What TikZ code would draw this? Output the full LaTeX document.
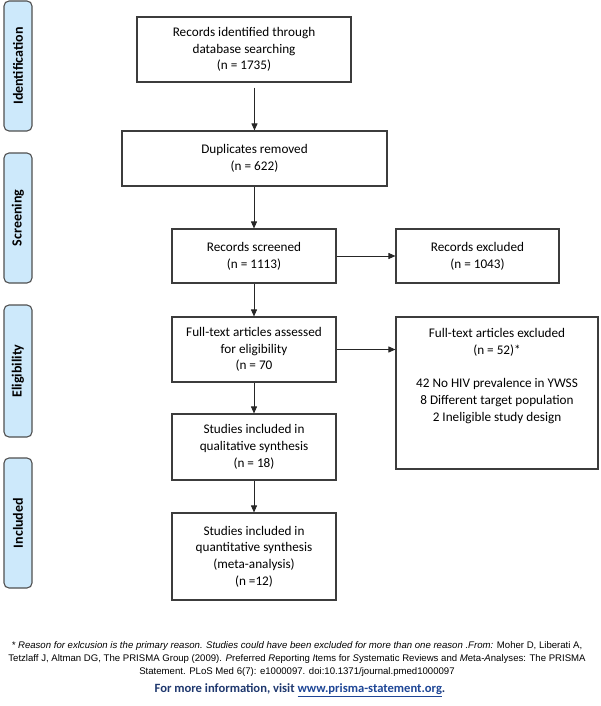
\documentclass[tikz,border=0pt]{standalone}
\usepackage{fontspec}
\setmainfont{Carlito}
\newfontfamily\arialf{Liberation Sans}
\usetikzlibrary{arrows.meta,calc}
\definecolor{sidefill}{RGB}{205,233,251}
\definecolor{sideline}{RGB}{80,80,80}
\definecolor{boxline}{RGB}{60,60,60}
\definecolor{navy}{RGB}{31,56,110}
\definecolor{linkblue}{RGB}{30,70,150}
\begin{document}
\begin{tikzpicture}[x=1pt,y=-1pt,
  box/.style={draw=boxline,line width=1.1pt,align=center,font=\fontsize{13.2}{16.7}\selectfont,inner sep=2pt},
  side/.style={draw=sideline,line width=1.1pt,fill=sidefill,rounded corners=5pt,minimum width=28pt,minimum height=130pt,inner sep=0pt},
  sidetext/.style={rotate=90,font=\fontsize{14}{16}\selectfont\bfseries},
  arr/.style={-{Triangle[length=7pt,width=6pt]},line width=0.9pt,draw=black!85},
  foot/.style={font=\arialf\fontsize{9.6}{13}\selectfont,align=center}]
\useasboundingbox (0,0) rectangle (600,706);
% side labels
\node[side] (sid) at (18,66) {};
\node[sidetext] (sidt) at (sid.center) {Identification};
\node[side] (ssc) at (18,218) {};
\node[sidetext] (ssct) at (ssc.center) {Screening};
\node[side,minimum height=132pt] (sel) at (18,371) {};
\node[sidetext] (selt) at (sel.center) {Eligibility};
\node[side] (sin) at (18,523) {};
\node[sidetext] (sint) at (sin.center) {Included};
% main boxes
\node[box,minimum width=214pt,minimum height=65pt] (b1) at (244,49.5) {Records identified through\\database searching\\(n = 1735)};
\node[box,minimum width=265pt,minimum height=55pt] (b2) at (254.5,158.5) {Duplicates removed\\(n = 622)};
\node[box,minimum width=164pt,minimum height=54pt] (b3) at (254,256) {Records screened\\(n = 1113)};
\node[box,minimum width=163pt,minimum height=54pt] (e1) at (477.5,256) {Records excluded\\(n = 1043)};
\node[box,minimum width=164pt,minimum height=65pt] (b4) at (254,349.5) {Full-text articles assessed\\for eligibility\\(n = 70};
\node[box,minimum width=202pt,minimum height=152pt] (e2) at (497,393) {};
\node[align=center,font=\fontsize{13.2}{16.7}\selectfont,anchor=north,inner sep=0pt] (e2t) at ([yshift=-12pt]e2.north) {Full-text articles excluded\\(n = 52)*\\[16.7pt]42 No HIV prevalence in YWSS\\8 Different target population\\2 Ineligible study design};
\node[box,minimum width=164pt,minimum height=66pt] (b5) at (254,447) {Studies included in\\qualitative synthesis\\(n = 18)};
\node[box,minimum width=164pt,minimum height=87pt] (b6) at (254,556.5) {Studies included in\\quantitative synthesis\\(meta-analysis)\\(n =12)};
% connectors
\draw[arr] ($(b1.south -| b2.north)+(0,5)$) -- (b2.north);
\draw[arr] (b2.south -| b3.north) -- (b3.north);
\draw[arr] (b3.east) -- (e1.west);
\draw[arr] (b3.south) -- (b4.north);
\draw[arr] (b4.east) -- (b4.east -| e2.west);
\draw[arr] (b4.south) -- (b5.north);
\draw[arr] (b5.south) -- (b6.north);
% footer
\node[foot] (f1) at (297,659) {\itshape * Reason for exlcusion is the primary reason. Studies could have been excluded for more than one reason .From:\upshape{}  Moher D, Liberati A,\\
Tetzlaff J, Altman DG, The PRISMA Group (2009). \textit{P}referred \textit{R}eporting \textit{I}tems for \textit{S}ystematic Reviews and \textit{M}eta-\textit{A}nalyses: The PRISMA\\
Statement. PLoS Med 6(7): e1000097. doi:10.1371/journal.pmed1000097};
\node[font=\fontsize{12.6}{14}\selectfont\bfseries,text=navy] (f2) at (300,690) {For more information, visit \textcolor{linkblue}{\underline{www.prisma-statement.org}}.};
\end{tikzpicture}
\end{document}
